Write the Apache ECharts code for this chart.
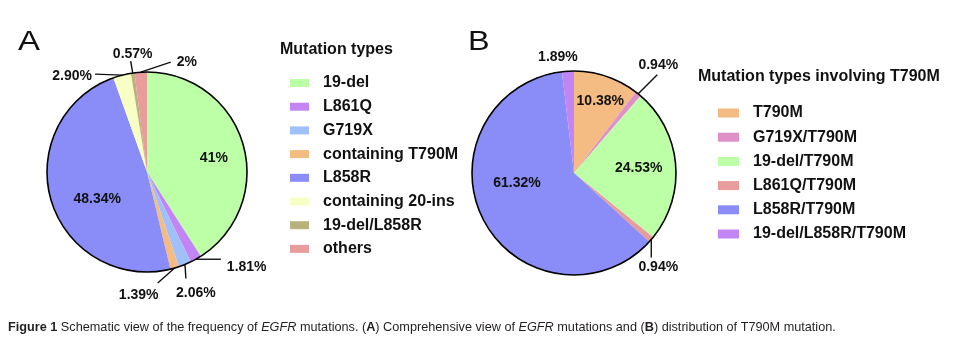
<!DOCTYPE html>
<html><head><meta charset="utf-8">
<script src="https://cdn.jsdelivr.net/npm/echarts@6/dist/echarts.min.js"></script>
<style>html,body{margin:0;padding:0;background:#fff}#c{width:975px;height:355px}</style>
</head><body><div id="c"></div>
<script>
// ---- data ----
const namesA = ['19-del', 'L861Q', 'G719X', 'containing T790M', 'L858R', 'containing 20-ins', '19-del/L858R', 'others'];
const valuesA = [41, 1.81, 2.06, 1.39, 48.34, 2.90, 0.57, 2];
const labelsA = ['41%', '1.81%', '2.06%', '1.39%', '48.34%', '2.90%', '0.57%', '2%'];
const namesB = ['T790M', 'G719X/T790M', '19-del/T790M', 'L861Q/T790M', 'L858R/T790M', '19-del/L858R/T790M'];
const valuesB = [10.38, 0.94, 24.53, 0.94, 61.32, 1.89];
const labelsB = ['10.38%', '0.94%', '24.53%', '0.94%', '61.32%', '1.89%'];
const titleA = 'Mutation types';
const titleB = 'Mutation types involving T790M';
const panelA = 'A';
const panelB = 'B';
const captionText = '{b|Figure 1} Schematic view of the frequency of {i|EGFR} mutations. ({b|A}) Comprehensive view of {i|EGFR} mutations and ({b|B}) distribution of T790M mutation.';

// ---- styles ----
const colorsA = ['#bcffa6', '#c384f4', '#a0c0fa', '#f4bc82', '#8a8cf8', '#f8ffc4', '#b9b27c', '#e89c9c'];
const colorsB = ['#f4bc82', '#e090c8', '#bcffa6', '#e89c9c', '#8a8cf8', '#c384f4'];
// label placement: inside -> [dx,dy]; outside -> line vector, label offset from line end, align
const layA = [
  {inside: true, d: [16, 1]},
  {line: [25, 0], off: [6, 8], align: 'left'},
  {line: [1, 14], off: [10, 15], align: 'center'},
  {line: [-17, 15], off: [-19, 12], align: 'center'},
  {inside: true, d: [1, 12]},
  {line: [-27, -1], off: [-3, 2], align: 'right'},
  {line: [-2, -12], off: [2, -7], align: 'center'},
  {line: [30, -10], off: [6, 0], align: 'left'}
];
const layB = [
  {inside: true, d: [9, -21]},
  {line: [19, -19], off: [1, -10], align: 'center'},
  {inside: true, d: [11, 0]},
  {line: [0, 18], off: [7, 10], align: 'center'},
  {inside: true, d: [-9, -15]},
  {line: [0, 0], off: [-10, -14], align: 'center', noLine: true}
];
const FONT = 'Liberation Sans, Arial, sans-serif';
const CAPFONT = 'Liberation Sans, Arial, sans-serif';
const CAPSIZE = 12.7;
const centerA = [147, 172], radA = 100;
const centerB = [574, 173], radB = 102;

function buildData(names, values, colors, lay) {
  return names.map((n, i) => ({
    name: n, value: values[i],
    itemStyle: {color: colors[i]},
    label: {position: lay[i].inside ? 'inside' : 'outside'},
    labelLine: lay[i].inside ? {show: false} : {show: true, lineStyle: {color: lay[i].noLine ? 'transparent' : '#111', width: 1.4}}
  }));
}
function makeLayout(lay) {
  return function (p) {
    const L = lay[p.dataIndex];
    if (L.inside) return {dx: L.d[0], dy: L.d[1]};
    const pts = p.labelLinePoints;
    if (!pts) return {};
    const p0 = pts[0];
    const p1 = [p0[0] + L.line[0], p0[1] + L.line[1]];
    return {
      x: p1[0] + L.off[0], y: p1[1] + L.off[1],
      align: L.align, verticalAlign: 'middle',
      labelLinePoints: [p0, p1, p1]
    };
  };
}
function pieSeries(names, values, colors, labels, lay, center, rad) {
  return {
    type: 'pie', center: center, radius: rad, startAngle: 90, clockwise: true,
    avoidLabelOverlap: false, animation: false,
    emphasis: {disabled: true},
    itemStyle: {borderWidth: 0},
    label: {show: true, formatter: p => labels[p.dataIndex], fontFamily: FONT, fontWeight: 'bold', fontSize: 14, color: '#111'},
    labelLine: {length: 10, length2: 0},
    labelLayout: makeLayout(lay),
    data: buildData(names, values, colors, lay)
  };
}
function outline(center, rad) {
  return {
    type: 'pie', center: center, radius: rad, silent: true, animation: false, z: 5,
    label: {show: false}, labelLine: {show: false}, emphasis: {disabled: true},
    itemStyle: {color: 'transparent', borderColor: '#000', borderWidth: 1.6},
    data: [{value: 1, name: '_outline'}]
  };
}
const legendCommon = {
  orient: 'vertical', icon: 'rect', selectedMode: false, padding: 0,
  textStyle: {fontFamily: FONT, fontWeight: 'bold', fontSize: 16, color: '#111', lineHeight: 16, padding: [0, 0, 0, 9]}
};
const chart = echarts.init(document.getElementById('c'), null, {renderer: 'canvas'});
chart.setOption({
  backgroundColor: '#fff',
  animation: false,
  title: [
    {text: titleA, left: 280, top: 42, padding: 0, textStyle: {fontFamily: FONT, fontWeight: 'bold', fontSize: 16, color: '#111'}},
    {text: titleB, left: 698, top: 69, padding: 0, textStyle: {fontFamily: FONT, fontWeight: 'bold', fontSize: 16, color: '#111'}},
    {text: captionText, left: 8, top: 321, padding: 0, textStyle: {fontFamily: CAPFONT, fontWeight: 'normal', fontSize: CAPSIZE, color: '#231f20',
      rich: {b: {fontFamily: CAPFONT, fontSize: CAPSIZE, fontWeight: 'bold', color: '#231f20'}, i: {fontFamily: CAPFONT, fontSize: CAPSIZE, fontWeight: 'normal', fontStyle: 'italic', color: '#231f20'}}}}
  ],
  graphic: [
    {type: 'text', x: 18, y: 43, scaleX: 1.22, silent: true, style: {text: panelA, font: '27px Liberation Sans, Arial, sans-serif', fill: '#111', verticalAlign: 'middle', align: 'left'}},
    {type: 'text', x: 468, y: 42.5, scaleX: 1.2, silent: true, style: {text: panelB, font: '27px Liberation Sans, Arial, sans-serif', fill: '#111', verticalAlign: 'middle', align: 'left'}}
  ],
  legend: [
    Object.assign({}, legendCommon, {left: 290, top: 75, itemWidth: 19, itemHeight: 8, itemGap: 7.7, data: namesA}),
    Object.assign({}, legendCommon, {left: 718, top: 105, itemWidth: 21, itemHeight: 9, itemGap: 8.2, data: namesB})
  ],
  series: [
    pieSeries(namesA, valuesA, colorsA, labelsA, layA, centerA, radA),
    outline(centerA, radA),
    pieSeries(namesB, valuesB, colorsB, labelsB, layB, centerB, radB),
    outline(centerB, radB)
  ]
});
</script>
</body></html>
